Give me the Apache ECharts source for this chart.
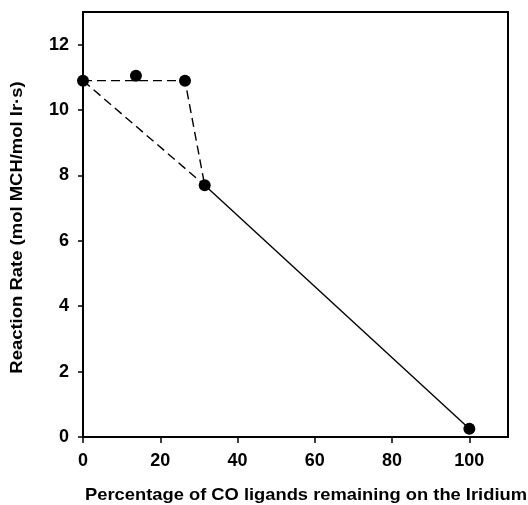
<!DOCTYPE html>
<html>
<head>
<meta charset="utf-8">
<script src="https://cdn.jsdelivr.net/npm/echarts@6/dist/echarts.min.js"></script>
<style>
  html, body { margin: 0; padding: 0; background: #fff; }
  #chart { width: 528px; height: 505px; }
</style>
</head>
<body>
<div id="chart"></div>
<script>
// Measured reaction rates vs. CO ligands left on the Ir clusters
const pctCO = [0, 13.7, 26.4, 31.5, 100];
const rate = [10.9, 11.05, 10.9, 7.7, 0.25];

// Connecting lines, given as indices into the arrays above
const dashedPathA = [0, 2, 3];
const dashedPathB = [0, 3];
const solidPath = [3, 4];

const xTicks = [0, 20, 40, 60, 80, 100];
const yTicks = [0, 2, 4, 6, 8, 10, 12];

const xTitle = 'Percentage of CO ligands remaining on the Iridium';
const yTitle = 'Reaction Rate (mol MCH/mol Ir\u00b7s)';

const pts = idx => idx.map(i => [pctCO[i], rate[i]]);
const font = 'Liberation Sans, Arial, sans-serif';

const chart = echarts.init(document.getElementById('chart'), null, { renderer: 'canvas' });

const lineSeries = (idx, dashed) => ({
  type: 'line',
  data: pts(idx),
  symbol: 'none',
  silent: true,
  z: 2,
  lineStyle: { color: '#000', width: 1.4, type: dashed ? [9, 5] : 'solid' }
});

chart.setOption({
  animation: false,
  grid: {
    left: 83, right: 20, top: 12, bottom: 68,
    show: true, borderColor: '#000', borderWidth: 2, backgroundColor: 'transparent'
  },
  xAxis: {
    type: 'value', min: 0, max: 110, interval: 20,
    splitLine: { show: false },
    axisLine: { lineStyle: { color: '#000', width: 2 } },
    axisTick: { show: true, inside: false, length: 6, lineStyle: { color: '#000', width: 1.5 },
      customValues: xTicks },
    axisLabel: { color: '#000', fontSize: 18, fontWeight: 'bold', fontFamily: font, margin: 15,
      customValues: xTicks }
  },
  yAxis: {
    type: 'value', min: 0, max: 13, interval: 2,
    splitLine: { show: false },
    axisLine: { lineStyle: { color: '#000', width: 2 } },
    axisTick: { show: true, inside: false, length: 5, lineStyle: { color: '#000', width: 1.5 },
      customValues: yTicks },
    axisLabel: { color: '#000', fontSize: 18, fontWeight: 'bold', fontFamily: font, margin: 14,
      customValues: yTicks }
  },
  graphic: [
    {
      type: 'text', x: 306, y: 495, scaleX: 1.078,
      style: { text: xTitle, fill: '#000', font: 'bold 17px ' + font,
        align: 'center', verticalAlign: 'middle' }
    },
    {
      type: 'text', x: 17.5, y: 227.5, rotation: Math.PI / 2, scaleX: 1.086,
      style: { text: yTitle, fill: '#000', font: 'bold 17px ' + font,
        align: 'center', verticalAlign: 'middle' }
    }
  ],
  series: [
    lineSeries(dashedPathA, true),
    lineSeries(dashedPathB, true),
    lineSeries(solidPath, false),
    {
      type: 'scatter',
      data: pctCO.map((x, i) => [x, rate[i]]),
      symbol: 'circle', symbolSize: 12, z: 5,
      itemStyle: { color: '#000', opacity: 1 }
    }
  ]
});
</script>
</body>
</html>
